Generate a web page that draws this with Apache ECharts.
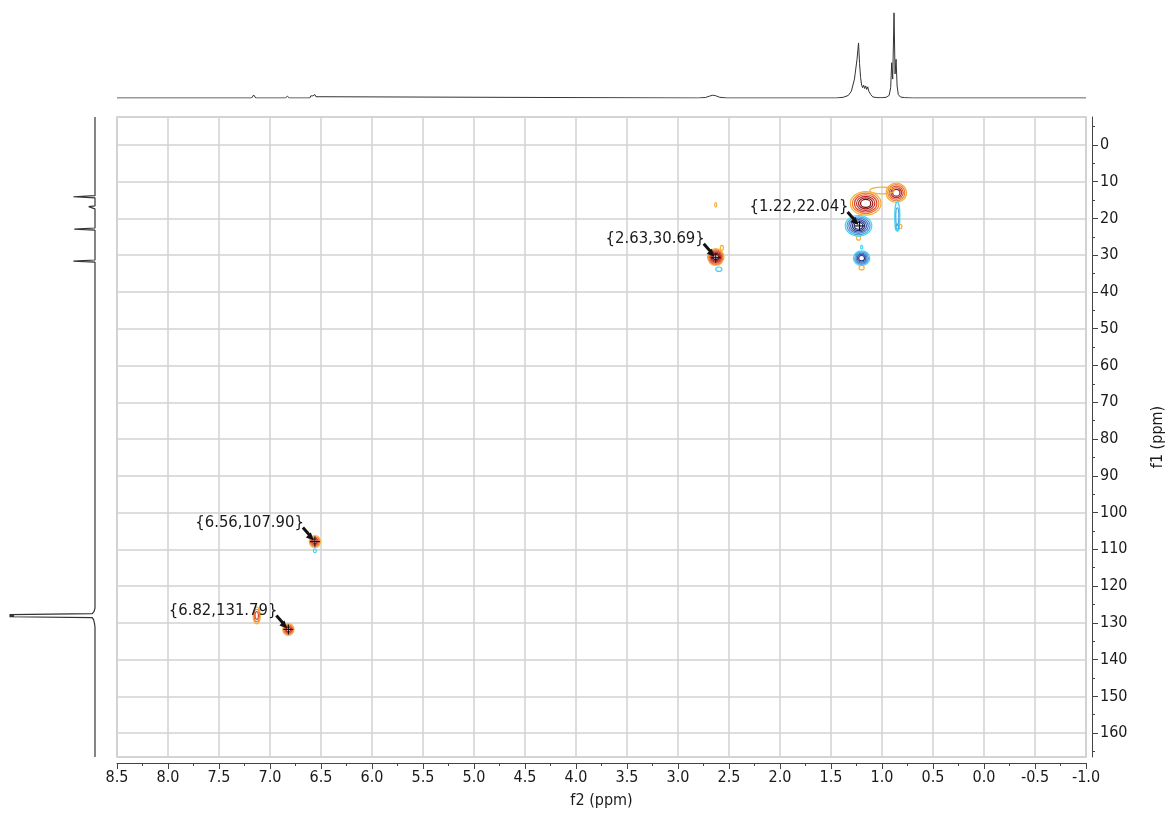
<!DOCTYPE html>
<html><head><meta charset="utf-8">
<script src="https://cdn.jsdelivr.net/npm/echarts@6/dist/echarts.min.js"></script>
<style>html,body{margin:0;padding:0;background:#fff}#c{width:1168px;height:818px}</style>
</head><body><div id="c"></div>
<script>
const FONT = "'DejaVu Sans Condensed','DejaVu Sans',sans-serif";

// axis ranges (ppm)
const f2Range = [-1.0, 8.5];
const f1Range = [-7.6, 166.5];
const f1MajorTicks = [0, 10, 20, 30, 40, 50, 60, 70, 80, 90, 100, 110, 120, 130, 140, 150, 160];
const f1MinorTicks = [-5, 5, 15, 25, 35, 45, 55, 65, 75, 85, 95, 105, 115, 125, 135, 145, 155, 165];

// 1H projection: [f2 ppm, relative intensity]
const protonSpectrum = [
  [8.5, 0], [7.18, 0], [7.17, 1.5], [7.16, 3.5], [7.15, 1.5], [7.14, 0],
  [6.85, 0], [6.84, 1.2], [6.83, 2], [6.82, 1.2], [6.81, 0],
  [6.61, 0], [6.60, 2.5], [6.59, 4.5], [6.58, 2.5], [6.57, 3.5], [6.56, 4], [6.55, 1.5], [6.54, 0],
  [2.80, 0], [2.73, 0.6], [2.69, 2.2], [2.66, 3.2], [2.63, 2.6], [2.59, 0.8], [2.52, 0],
  [1.45, 0], [1.38, 0.8], [1.33, 3], [1.30, 8], [1.27, 22], [1.245, 45], [1.23, 64], [1.22, 40],
  [1.21, 24], [1.20, 15], [1.19, 12], [1.18, 15], [1.17, 11], [1.16, 14], [1.15, 10], [1.14, 13],
  [1.13, 8], [1.12, 9], [1.11, 4], [1.09, 1.2], [1.05, 0.4], [1.00, 0.3],
  [0.96, 0.8], [0.93, 3], [0.915, 12], [0.905, 41], [0.895, 22], [0.882, 99], [0.872, 28],
  [0.862, 45], [0.852, 14], [0.84, 4], [0.82, 1.2], [0.78, 0.4], [0.70, 0], [-1.0, 0]
];

// 13C projection: [relative intensity, f1 ppm]
const carbonSpectrum = [
  [0, -7.6], [0, 13.8], [24, 14.1], [0, 14.4], [0, 16.6], [7, 16.8], [8, 17.1], [0, 17.4],
  [0, 22.6], [23, 22.9], [0, 23.2], [0, 31.3], [24, 31.6], [0, 31.9],
  [0, 108.0], [2, 108.3], [0, 108.6],
  [0, 126.0], [1, 126.9], [3, 127.5], [95, 127.75], [90, 127.9], [95, 128.05], [90, 128.2], [95, 128.35],
  [3, 128.6], [1.5, 129.2], [0.5, 130.2], [0, 131.2], [0, 131.9], [2, 132.2], [0, 132.5], [0, 166.5]
];

// HSQC cross peaks, positive phase (CH/CH3): [f2, f1, half-width f2, half-width f1, contour levels]
const positivePeaks = [
  [1.16, 15.9, 0.15, 3.2, 6],
  [0.86, 13.0, 0.10, 2.6, 5],
  [2.63, 30.5, 0.08, 2.3, 6],
  [6.56, 107.9, 0.055, 1.6, 4],
  [6.82, 131.8, 0.055, 1.6, 4],
  [7.13, 128.0, 0.035, 2.3, 3],
  [1.00, 12.4, 0.12, 0.9, 1],
  [1.23, 25.3, 0.02, 0.6, 1],
  [1.20, 33.4, 0.025, 0.6, 1],
  [2.63, 16.3, 0.01, 0.6, 1],
  [0.82, 22.2, 0.015, 0.6, 1],
  [2.57, 28.0, 0.015, 0.7, 1]
];

// HSQC cross peaks, negative phase (CH2)
const negativePeaks = [
  [1.23, 22.0, 0.13, 2.8, 6],
  [1.20, 30.8, 0.08, 2.0, 5],
  [0.85, 19.5, 0.025, 4.0, 2],
  [0.85, 22.3, 0.02, 1.0, 2],
  [2.60, 33.8, 0.03, 0.6, 1],
  [6.56, 110.4, 0.015, 0.5, 1],
  [1.20, 27.8, 0.01, 0.5, 1]
];

// annotated peak picks
const annotatedF2 = [1.22, 2.63, 6.56, 6.82];
const annotatedF1 = [22.04, 30.69, 107.90, 131.79];

const posRamp = ['#f5b03a', '#ef7b2f', '#e04a2a', '#c4282a', '#9c1818', '#6e0c0c'];
const negRamp = ['#45d3f2', '#3fa6e3', '#4679cc', '#3a56aa', '#2c3b86', '#1d2660'];

function contourRenderer(ramp) {
  return function (params, api) {
    const c = api.coord([api.value(0), api.value(1)]);
    const s = api.size([api.value(2), api.value(3)]);
    const levels = api.value(4);
    const children = [];
    for (let k = 0; k < levels; k++) {
      const f = 1 - (k / levels) * 0.8;
      children.push({
        type: 'ellipse',
        shape: { cx: c[0], cy: c[1], rx: Math.max(Math.abs(s[0]) * f, 1), ry: Math.max(Math.abs(s[1]) * f, 1) },
        style: { fill: 'none', stroke: ramp[Math.min(k, ramp.length - 1)], lineWidth: 1.2 }
      });
    }
    return { type: 'group', children: children };
  };
}

function annotationRenderer(params, api) {
  const f2 = api.value(0), f1 = api.value(1);
  const p = api.coord([f2, f1]);
  const x = p[0], y = p[1];
  return {
    type: 'group',
    children: [
      { type: 'line', shape: { x1: x - 12, y1: y - 14, x2: x - 5, y2: y - 6 }, style: { stroke: '#111', lineWidth: 3 } },
      { type: 'polygon', shape: { points: [[x - 1, y - 1], [x - 9, y - 4], [x - 4, y - 9]] }, style: { fill: '#111' } },
      { type: 'line', shape: { x1: x - 5, y1: y, x2: x + 5, y2: y }, style: { stroke: '#111', lineWidth: 1.2 } },
      { type: 'line', shape: { x1: x, y1: y - 5, x2: x, y2: y + 5 }, style: { stroke: '#111', lineWidth: 1.2 } },
      { type: 'text', x: x - 11, y: y - 19, style: {
          text: '{' + f2.toFixed(2) + ',' + f1.toFixed(2) + '}',
          align: 'right', verticalAlign: 'middle', fontSize: 16.5, fontFamily: FONT, fill: '#1a1a1a' } }
    ]
  };
}

const chart = echarts.init(document.getElementById('c'), null, { renderer: 'canvas' });
const axisColor = '#444';
chart.setOption({
  animation: false,
  backgroundColor: '#fff',
  grid: [
    { left: 117, right: 82, top: 117, bottom: 61, show: true, borderColor: '#c6c6c6', borderWidth: 1.5, backgroundColor: '#fff', containLabel: false, outerBoundsMode: 'none' },
    { left: 117, right: 82, top: 12, height: 86, containLabel: false, outerBoundsMode: 'none' },
    { left: 5, width: 90, top: 117, bottom: 61, containLabel: false, outerBoundsMode: 'none' }
  ],
  xAxis: [
    {
      gridIndex: 0, type: 'value', inverse: true, min: f2Range[0], max: f2Range[1], interval: 0.5,
      position: 'bottom', offset: 6,
      axisLine: { show: true, onZero: false, lineStyle: { color: axisColor } },
      axisTick: { show: true, length: 6, lineStyle: { color: axisColor } },
      minorTick: { show: true, splitNumber: 2, length: 3, lineStyle: { color: axisColor } },
      axisLabel: { formatter: v => v.toFixed(1), fontFamily: FONT, fontSize: 16, color: '#1a1a1a', margin: 7 },
      splitLine: { show: true, lineStyle: { color: '#d2d2d2', width: 1.5 } },
      name: 'f2 (ppm)', nameLocation: 'middle', nameGap: 30,
      nameTextStyle: { fontFamily: FONT, fontSize: 16, color: '#1a1a1a' }
    },
    { gridIndex: 1, type: 'value', inverse: true, min: f2Range[0], max: f2Range[1], show: false },
    { gridIndex: 2, type: 'value', inverse: true, min: 0, max: 100, show: false }
  ],
  yAxis: [
    {
      gridIndex: 0, type: 'value', inverse: true, min: f1Range[0], max: f1Range[1],
      position: 'right', offset: 6,
      axisLine: { show: true, onZero: false, lineStyle: { color: axisColor } },
      axisTick: { show: true, length: 6, customValues: f1MajorTicks, lineStyle: { color: axisColor } },
      axisLabel: { customValues: f1MajorTicks, fontFamily: FONT, fontSize: 16, color: '#1a1a1a', margin: 8 },
      splitLine: { show: true, lineStyle: { color: '#d2d2d2', width: 1.5 } },
      name: 'f1 (ppm)', nameLocation: 'middle', nameRotate: 90, nameGap: 58,
      nameTextStyle: { fontFamily: FONT, fontSize: 16, color: '#1a1a1a' }
    },
    {
      gridIndex: 0, type: 'value', inverse: true, min: f1Range[0], max: f1Range[1],
      position: 'right', offset: 6,
      axisLine: { show: false, onZero: false },
      axisTick: { show: true, length: 3, customValues: f1MinorTicks, lineStyle: { color: axisColor } },
      axisLabel: { show: false },
      splitLine: { show: false }
    },
    { gridIndex: 1, type: 'value', min: 0, max: 100, show: false },
    { gridIndex: 2, type: 'value', inverse: true, min: f1Range[0], max: f1Range[1], show: false }
  ],
  series: [
    {
      type: 'custom', name: 'positive', xAxisIndex: 0, yAxisIndex: 0,
      data: positivePeaks, renderItem: contourRenderer(posRamp), silent: true
    },
    {
      type: 'custom', name: 'negative', xAxisIndex: 0, yAxisIndex: 0,
      data: negativePeaks, renderItem: contourRenderer(negRamp), silent: true
    },
    {
      type: 'custom', name: 'annotations', xAxisIndex: 0, yAxisIndex: 0, z: 5,
      data: annotatedF2.map((v, i) => [v, annotatedF1[i]]), renderItem: annotationRenderer, silent: true
    },
    {
      type: 'line', name: '1H', xAxisIndex: 1, yAxisIndex: 2, data: protonSpectrum,
      showSymbol: false, lineStyle: { color: '#333', width: 1 }, silent: true
    },
    {
      type: 'line', name: '13C', xAxisIndex: 2, yAxisIndex: 3, data: carbonSpectrum,
      showSymbol: false, lineStyle: { color: '#333', width: 1.2 }, silent: true
    }
  ]
});
</script>
</body></html>
